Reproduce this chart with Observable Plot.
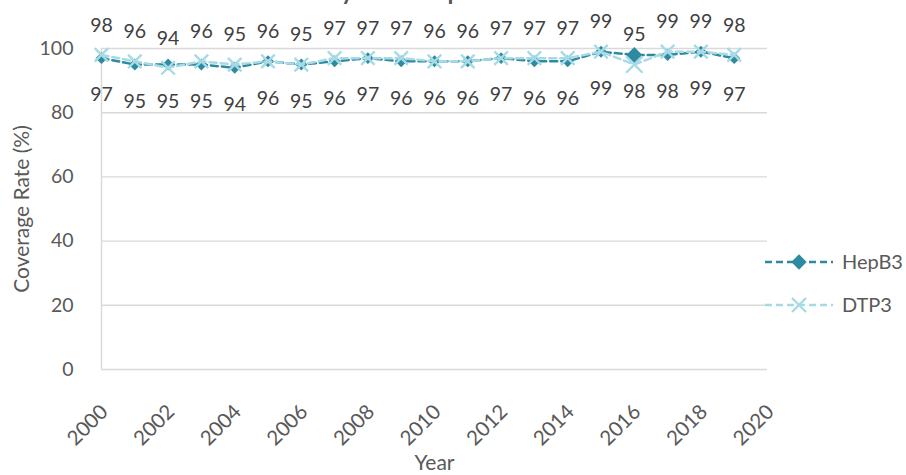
<!DOCTYPE html>
<html>
<head>
<meta charset="utf-8">
<script src="https://cdn.jsdelivr.net/npm/d3@7"></script>
<script src="https://cdn.jsdelivr.net/npm/@observablehq/plot@0.6"></script>
<style>
  html, body { margin: 0; padding: 0; background: #fff; overflow: hidden; }
  #wrap { position: relative; width: 906px; height: 475px; font-family: Lato, "Open Sans", sans-serif; }
  #wrap > svg { position: absolute; left: 0; top: 0; }
  #overlay { pointer-events: none; }
</style>
</head>
<body>
<div id="wrap"></div>
<script>
const years = [2000,2001,2002,2003,2004,2005,2006,2007,2008,2009,2010,2011,2012,2013,2014,2015,2016,2017,2018,2019];
const hepb3 = [97,95,95,95,94,96,95,96,97,96,96,96,97,96,96,99,98,98,99,97];
const dtp3  = [98,96,94,96,95,96,95,97,97,97,96,96,97,97,97,99,95,99,99,98];
const seriesNames = ["HepB3", "DTP3"];
const xTicks = [2000,2002,2004,2006,2008,2010,2012,2014,2016,2018,2020];
const yTicks = [0,20,40,60,80,100];
const xTitle = "Year";
const yTitle = "Coverage Rate (%)";
const titleText = "Vaccination Rates by Year: HepB3 vs DTP3";

const colHep = "#2e8aa0";
const colDtp = "#a6dbe6";
const textCol = "#595959";
const labelCol = "#404040";
const font = "Lato, 'Open Sans', sans-serif";

const hepData = years.map((y, i) => ({year: y, value: hepb3[i], series: seriesNames[0]}));
const dtpData = years.map((y, i) => ({year: y, value: dtp3[i], series: seriesNames[1]}));

const chart = Plot.plot({
  width: 906,
  height: 475,
  marginLeft: 101,
  marginRight: 139,
  marginTop: 48,
  marginBottom: 106,
  style: {fontFamily: font, background: "#fff"},
  x: {domain: [2000, 2020], axis: null},
  y: {domain: [0, 100], axis: null},
  r: {type: "identity"},
  marks: [
    Plot.gridY(yTicks, {stroke: "#d9d9d9", strokeOpacity: 1, strokeWidth: 1.4}),
    Plot.ruleX([2000], {stroke: "#d9d9d9", strokeWidth: 1.4}),
    Plot.axisY(yTicks, {tickSize: 0, tickPadding: 28, fontSize: 19.5, color: textCol, label: null}),
    Plot.text(xTicks, {x: d => d, text: d => String(d), frameAnchor: "bottom", rotate: -45,
      textAnchor: "end", lineAnchor: "middle", dx: 3, dy: 39, fontSize: 20.5, fill: textCol}),
    Plot.text([yTitle], {frameAnchor: "left", dx: -79, rotate: -90, fontSize: 21, fill: textCol, textAnchor: "middle", lineAnchor: "middle"}),
    Plot.text([xTitle], {frameAnchor: "bottom", dy: 94, fontSize: 21, fill: textCol, lineAnchor: "middle"}),
    Plot.line(hepData, {x: "year", y: "value", stroke: colHep, strokeWidth: 2.5, strokeDasharray: "7,4"}),
    Plot.dot(hepData, {x: "year", y: "value", symbol: "diamond2", fill: colHep, stroke: "none", r: d => d.year === 2016 ? 7.2 : 5.4}),
    Plot.line(dtpData, {x: "year", y: "value", stroke: colDtp, strokeWidth: 2.5, strokeDasharray: "7,4"}),
    Plot.dot(dtpData, {x: "year", y: "value", symbol: "times", stroke: colDtp, strokeWidth: 2.4, r: d => d.year === 2016 ? 7.5 : 6.2}),
    Plot.text(dtpData, {x: "year", y: "value", text: d => String(d.value), dy: -29.5, fontSize: 19.5, fill: labelCol}),
    Plot.text(hepData, {x: "year", y: "value", text: d => String(d.value), dy: 37, fontSize: 19.5, fill: labelCol})
  ]
});
document.getElementById("wrap").appendChild(chart);

// Overlay: (cropped) title and legend
const ov = d3.select("#wrap").append("svg").attr("id", "overlay")
  .attr("width", 906).attr("height", 475);

const title = ov.append("text").text(titleText)
  .attr("x", 0).attr("y", 0)
  .attr("font-size", 24).attr("font-weight", "bold").attr("fill", textCol)
  .attr("font-family", font);
const idx = titleText.indexOf("by") + 1;
const ext = title.node().getExtentOfChar(idx);
title.attr("x", 347 - (ext.x + ext.width / 2));

const legendItems = [
  {name: seriesNames[0], color: colHep, symbol: "hep", y: 262},
  {name: seriesNames[1], color: colDtp, symbol: "dtp", y: 305}
];
legendItems.forEach(it => {
  const g = ov.append("g");
  g.append("line").attr("x1", 765).attr("x2", 833).attr("y1", it.y).attr("y2", it.y)
    .attr("stroke", it.color).attr("stroke-width", 2.5).attr("stroke-dasharray", "7,4");
  if (it.symbol === "hep") {
    g.append("path").attr("d", d3.symbol(d3.symbolDiamond2, 150)())
      .attr("transform", `translate(799,${it.y})`).attr("fill", it.color);
  } else {
    g.append("path").attr("d", d3.symbol(d3.symbolTimes, 130)())
      .attr("transform", `translate(799,${it.y})`).attr("fill", "none")
      .attr("stroke", it.color).attr("stroke-width", 2.4);
  }
  g.append("text").text(it.name).attr("x", 842).attr("y", it.y + 7)
    .attr("font-size", 20).attr("fill", textCol)
    .attr("font-family", font);
});
</script>
</body>
</html>
